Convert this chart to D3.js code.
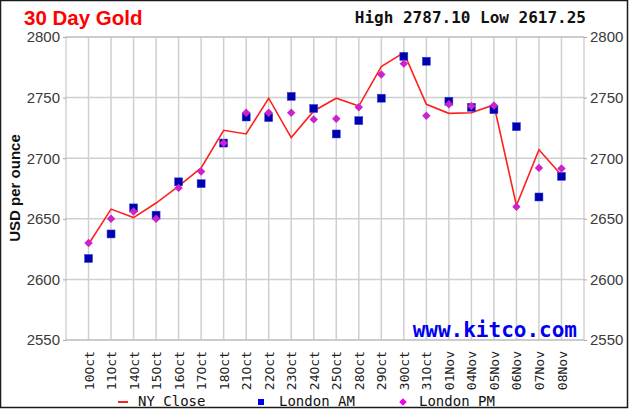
<!DOCTYPE html>
<html><head><meta charset="utf-8">
<script src="https://cdn.jsdelivr.net/npm/d3@7"></script>
<style>body{margin:0;background:#fff}svg{display:block}</style>
</head><body>
<script>
const dates = ["10Oct","11Oct","14Oct","15Oct","16Oct","17Oct","18Oct","21Oct","22Oct","23Oct","24Oct","25Oct","28Oct","29Oct","30Oct","31Oct","01Nov","04Nov","05Nov","06Nov","07Nov","08Nov"];
const nyClose  = [2629,2658,2651,2663,2677,2692,2723,2720,2749.5,2717,2739,2749.5,2743,2775.5,2787.1,2744.5,2737,2737.5,2744,2661,2707,2686];
const londonAM = [2617.25,2637.5,2659,2653,2680.5,2679,2712.5,2734,2733.5,2751,2741,2720,2731,2749.5,2784,2780,2747,2742,2740,2726,2668,2685];
const londonPM = [2630,2650,2656,2650,2675.5,2689,2712.5,2737.5,2737.5,2737.5,2732,2732.5,2742,2769,2778,2735,2744.5,2743,2743.5,2660,2692,2691.5];
const yTicks = [2550,2600,2650,2700,2750,2800];
const titleText = "30 Day Gold";
const hiLoText = "High 2787.10 Low 2617.25";

const W=630,H=410;
const svg=d3.select("body").append("svg").attr("width",W).attr("height",H);
svg.append("rect").attr("width",W).attr("height",H).attr("fill","#fff");
svg.append("rect").attr("x",0.5).attr("y",0.5).attr("width",627).attr("height",407)
  .attr("fill","none").attr("stroke","#1a1a1a").attr("stroke-width",1.5);

const L=66,R=584,T=37,B=340;
const x=d3.scalePoint().domain(dates).range([L,R]).padding(1);
const y=d3.scaleLinear().domain([2550,2800]).range([B,T]);

// grid
const g=svg.append("g");
g.selectAll("line.v").data(dates).enter().append("line")
  .attr("x1",d=>x(d)).attr("x2",d=>x(d)).attr("y1",T).attr("y2",B)
  .attr("stroke","#cfcfcf").attr("stroke-width",1.5);
g.selectAll("line.h").data(yTicks).enter().append("line")
  .attr("x1",L).attr("x2",R).attr("y1",d=>y(d)).attr("y2",d=>y(d))
  .attr("stroke","#cfcfcf").attr("stroke-width",1.5);
g.append("rect").attr("x",L).attr("y",T).attr("width",R-L).attr("height",B-T)
  .attr("fill","none").attr("stroke","#bdbdbd").attr("stroke-width",1);

// axes
const fmt=d3.format("d");
const yl=svg.append("g").attr("transform",`translate(${L},0)`).call(d3.axisLeft(y).tickValues(yTicks).tickFormat(fmt).tickSize(3).tickPadding(3));
const yr=svg.append("g").attr("transform",`translate(${R},0)`).call(d3.axisRight(y).tickValues(yTicks).tickFormat(fmt).tickSize(3).tickPadding(3));
[yl,yr].forEach(a=>{a.select(".domain").remove();a.selectAll("line").attr("stroke","#aaa");
  a.selectAll("text").attr("fill","#3a3a3a").attr("font-family","Liberation Sans, Arial, sans-serif").attr("font-size",15);});

const xa=svg.append("g").attr("transform",`translate(0,${B})`).call(d3.axisBottom(x).tickSize(0));
xa.select(".domain").remove();
xa.selectAll("text").attr("transform","rotate(-90)").attr("text-anchor","end")
  .attr("x",-11).attr("y",0).attr("dy","0.35em")
  .attr("fill","#222").attr("font-family","DejaVu Sans Mono, monospace").attr("font-size",13);

// kitco
svg.append("text").attr("x",577).attr("y",337).attr("text-anchor","end")
  .attr("font-family","DejaVu Sans Mono, monospace").attr("font-weight","bold").attr("font-size",21)
  .attr("fill","#0000ee").text("www.kitco.com");

// line
svg.append("path").datum(nyClose)
  .attr("d",d3.line().x((d,i)=>x(dates[i])).y(d=>y(d)))
  .attr("fill","none").attr("stroke","#ff2020").attr("stroke-width",1.6);
// AM squares
svg.selectAll("rect.am").data(londonAM).enter().append("rect")
  .attr("x",(d,i)=>x(dates[i])-4).attr("y",d=>y(d)-4).attr("width",8).attr("height",8)
  .attr("fill","#0000b0").attr("stroke","#3344dd").attr("stroke-width",0.5);
// PM diamonds
svg.selectAll("path.pm").data(londonPM).enter().append("path")
  .attr("d",d3.symbol().type(d3.symbolDiamond2).size(45))
  .attr("transform",(d,i)=>`translate(${x(dates[i])},${y(d)})`)
  .attr("fill","#cc22cc");

// titles
svg.append("text").attr("x",24).attr("y",25).attr("font-family","Liberation Sans, Arial, sans-serif")
  .attr("font-size",20.5).attr("font-weight","bold").attr("fill","#ff0000").text(titleText);
svg.append("text").attr("x",586).attr("y",23).attr("text-anchor","end")
  .attr("font-family","DejaVu Sans Mono, monospace").attr("font-weight","bold").attr("font-size",16)
  .attr("fill","#111").text(hiLoText);
svg.append("text").attr("transform","translate(20,188) rotate(-90)").attr("text-anchor","middle")
  .attr("font-family","Liberation Sans, Arial, sans-serif").attr("font-weight","bold").attr("font-size",15)
  .attr("fill","#111").text("USD per ounce");

// legend
const lg=svg.append("g").attr("font-family","DejaVu Sans Mono, monospace").attr("font-size",14).attr("fill","#111");
lg.append("line").attr("x1",118).attr("x2",128).attr("y1",402).attr("y2",402).attr("stroke","#ff2020").attr("stroke-width",2);
lg.append("text").attr("x",138).attr("y",406).text("NY Close");
lg.append("rect").attr("x",258).attr("y",399).attr("width",6).attr("height",6).attr("fill","#0000ee");
lg.append("text").attr("x",279).attr("y",406).text("London AM");
lg.append("path").attr("d",d3.symbol().type(d3.symbolDiamond2).size(36)).attr("transform","translate(403,402)").attr("fill","#ee00ee");
lg.append("text").attr("x",419).attr("y",406).text("London PM");
</script>
</body></html>
